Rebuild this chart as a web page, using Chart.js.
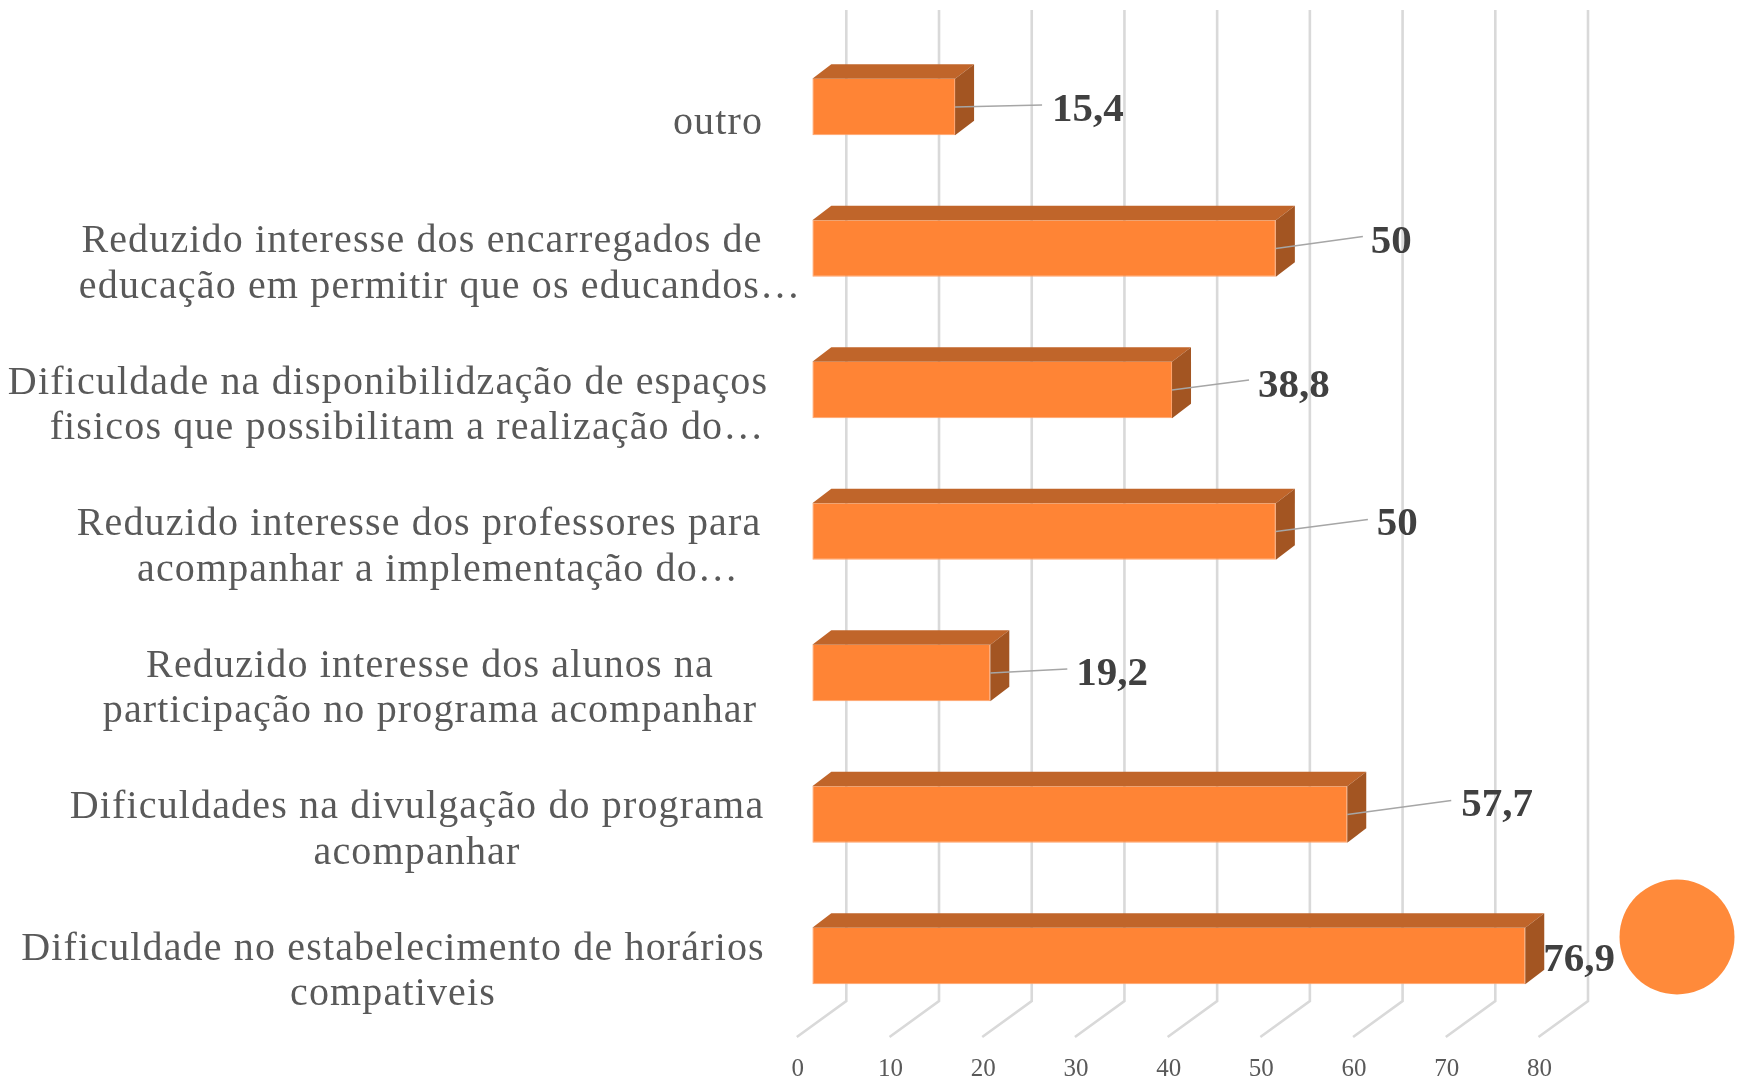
<!DOCTYPE html>
<html>
<head>
<meta charset="utf-8">
<title>Dificuldades</title>
<style>
    html, body { margin: 0; padding: 0; background: #fff; }
    canvas { display: block; }
</style>
<script src="https://cdn.jsdelivr.net/npm/chart.js@4/dist/chart.umd.min.js"></script>
</head>
<body>
<canvas id="myChart" width="1742" height="1078"></canvas>
<script>
'use strict'

var categories = [
    ['outro'],
    ['Reduzido interesse dos encarregados de', 'educação em permitir que os educandos…'],
    ['Dificuldade na disponibilidzação de espaços', 'fisicos que possibilitam a realização do…'],
    ['Reduzido interesse dos professores para', 'acompanhar a implementação do…'],
    ['Reduzido interesse dos alunos na', 'participação no programa acompanhar'],
    ['Dificuldades na divulgação do programa', 'acompanhar'],
    ['Dificuldade no estabelecimento de horários', 'compativeis']
];
var values = [15.4, 50, 38.8, 50, 19.2, 57.7, 76.9];
var tickValues = [0, 10, 20, 30, 40, 50, 60, 70, 80];

// hand placed, the labels in the original were dragged around
var lineCenters = [[718], [422, 440], [388, 407], [419, 438], [430, 430], [417, 417], [393, 393]];
var leaderEnds = [[87, -2], [87, -12], [77, -10], [92, -12], [77, -4], [104, -14], null];
var valueLabelOffsets = [[97, 3], [95, -6], [86, -4], [101, -7], [86, 1], [114, -9], [18, 4]];

var colFront = '#FF8435';
var colTop = '#C0652A';
var colSide = '#A35522';
var colGrid = '#D9D9D9';
var depthX = 19;
var depthY = 14.5;

var gridFloor = {
    id: 'gridFloor',
    beforeDatasetsDraw: function (chart) {
        var ctx = chart.ctx;
        var x = chart.scales.x;
        ctx.save();
        ctx.strokeStyle = colGrid;
        ctx.lineWidth = 2.6;
        tickValues.forEach(function (v) {
            var px = x.getPixelForValue(v);
            ctx.beginPath();
            ctx.moveTo(px + 34, 10);
            ctx.lineTo(px + 34, 1001);
            ctx.lineTo(px - 15.5, 1037);
            ctx.stroke();
        });
        ctx.restore();
    }
};

var bar3d = {
    id: 'bar3d',
    afterDatasetsDraw: function (chart) {
        var ctx = chart.ctx;
        var bars = chart.getDatasetMeta(0).data;
        ctx.save();
        bars.forEach(function (bar, i) {
            var left = bar.base;
            var right = bar.x;
            var top = bar.y - bar.height / 2;
            var bottom = bar.y + bar.height / 2;

            ctx.fillStyle = colTop;
            ctx.beginPath();
            ctx.moveTo(left, top);
            ctx.lineTo(left + depthX, top - depthY);
            ctx.lineTo(right + depthX, top - depthY);
            ctx.lineTo(right, top);
            ctx.closePath();
            ctx.fill();

            ctx.fillStyle = colSide;
            ctx.beginPath();
            ctx.moveTo(right, top);
            ctx.lineTo(right + depthX, top - depthY);
            ctx.lineTo(right + depthX, bottom - depthY);
            ctx.lineTo(right, bottom);
            ctx.closePath();
            ctx.fill();

            // leader line
            if (leaderEnds[i]) {
                ctx.strokeStyle = '#A6A6A6';
                ctx.lineWidth = 1.5;
                ctx.beginPath();
                ctx.moveTo(right, bar.y);
                ctx.lineTo(right + leaderEnds[i][0], bar.y + leaderEnds[i][1]);
                ctx.stroke();
            }

            // value label
            ctx.fillStyle = '#404040';
            ctx.font = 'bold 41px "Liberation Serif"';
            ctx.textAlign = 'left';
            ctx.textBaseline = 'middle';
            ctx.fillText(String(values[i]).replace('.', ','), right + valueLabelOffsets[i][0], bar.y + valueLabelOffsets[i][1]);
        });

        // stray legend dot from the original slide
        ctx.fillStyle = '#FF8A3A';
        ctx.beginPath();
        ctx.arc(1677, 937, 57.5, 0, Math.PI * 2);
        ctx.fill();
        ctx.restore();
    }
};

var categoryText = {
    id: 'categoryText',
    afterDraw: function (chart) {
        var ctx = chart.ctx;
        var y = chart.scales.y;
        ctx.save();
        ctx.fillStyle = '#595959';
        ctx.font = '40px "Liberation Serif"';
        ctx.letterSpacing = '1.15px';
        ctx.textAlign = 'center';
        ctx.textBaseline = 'middle';
        categories.forEach(function (lines, i) {
            var py = y.getPixelForValue(i) + 16;
            lines.forEach(function (line, n) {
                var offset = (n - (lines.length - 1) / 2) * 45.5;
                ctx.fillText(line, lineCenters[i][n], py + offset);
            });
        });
        ctx.restore();
    }
};

var ctx = document.getElementById('myChart').getContext('2d');

var chart = new Chart(ctx, {
    type: 'bar',
    data: {
        labels: categories,
        datasets: [{
            data: values,
            backgroundColor: colFront,
            borderColor: '#FFA26A',
            borderWidth: 1,
            borderSkipped: 'top',
            barPercentage: 0.4,
            categoryPercentage: 1
        }]
    },
    options: {
        indexAxis: 'y',
        responsive: false,
        animation: false,
        layout: {
            padding: { top: 36.25, right: 188, bottom: 0, left: 0 }
        },
        plugins: {
            legend: { display: false },
            title: { display: false },
            tooltip: { enabled: false }
        },
        scales: {
            x: {
                min: 0,
                max: 80,
                afterFit: function (scale) { scale.height = 51.25; },
                afterBuildTicks: function (scale) {
                    scale.ticks = tickValues.map(function (v) { return { value: v }; });
                },
                grid: { display: false, drawTicks: false },
                border: { display: false },
                ticks: {
                    color: '#595959',
                    font: { family: 'Liberation Serif', size: 25 },
                    labelOffset: -14.5,
                    padding: 28,
                    maxRotation: 0,
                    autoSkip: false
                }
            },
            y: {
                afterFit: function (scale) { scale.width = 812.3; },
                grid: { display: false, drawTicks: false },
                border: { display: false },
                ticks: { display: false }
            }
        }
    },
    plugins: [gridFloor, bar3d, categoryText]
});
</script>
</body>
</html>
